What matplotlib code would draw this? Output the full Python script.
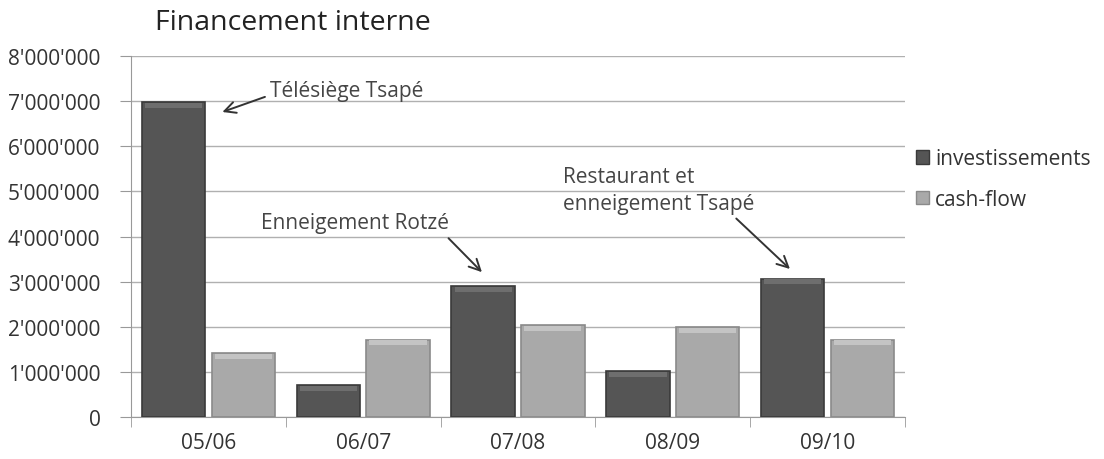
import matplotlib
matplotlib.use("Agg")
import matplotlib.pyplot as plt
import numpy as np
from matplotlib.patches import Patch

# data
periods = ["05/06", "06/07", "07/08", "08/09", "09/10"]
investissements = [6980000, 700000, 2900000, 1010000, 3060000]
cash_flow = [1410000, 1710000, 2030000, 1990000, 1710000]
y_ticks = np.arange(0, 8000001, 1000000)

DARK = "#555555"
DARK_EDGE = "#3a3a3a"
LIGHT = "#a9a9a9"
LIGHT_EDGE = "#8a8a8a"
TEXT = "#333333"
NOTE = "#454545"

plt.rcParams["font.family"] = ["Open Sans", "DejaVu Sans"]

fig = plt.figure(figsize=(11.04, 4.6), dpi=100)
fig.patch.set_facecolor("white")
ax = fig.add_axes([0.1187, 0.0913, 0.7010, 0.7847])

x = np.arange(len(periods))
w = 0.41
gap = 0.02
inv_pos = x - w / 2 - gap
cf_pos = x + w / 2 + gap

ax.bar(inv_pos, investissements, w, color=DARK, edgecolor=DARK_EDGE, linewidth=1.2, zorder=3)
ax.bar(cf_pos, cash_flow, w, color=LIGHT, edgecolor=LIGHT_EDGE, linewidth=1.2, zorder=3)

# a light strip on top of each bar to mimic the bevel
bevel = 110000
ax.bar(inv_pos, [bevel] * len(x), w * 0.9, bottom=np.array(investissements) - bevel * 1.1,
       color="#6e6e6e", linewidth=0, zorder=4)
ax.bar(cf_pos, [bevel] * len(x), w * 0.9, bottom=np.array(cash_flow) - bevel * 1.1,
       color="#c4c4c4", linewidth=0, zorder=4)

ax.set_xlim(-0.5, len(periods) - 0.5)
ax.set_ylim(0, 8000000)
ax.set_yticks(y_ticks)
ax.set_yticklabels([f"{v:,}".replace(",", "'") for v in y_ticks], fontsize=15, color=TEXT)
ax.set_xticks(x)
ax.set_xticklabels(periods, fontsize=15, color=TEXT)
ax.set_xticks(np.arange(len(periods) + 1) - 0.5, minor=True)
ax.tick_params(axis="x", which="major", length=0, pad=11)
ax.tick_params(axis="x", which="minor", length=7, color="#999999", direction="out")
ax.tick_params(axis="y", length=8, color="#999999", direction="out", pad=14)

ax.grid(True, axis="y", color="#b0b0b0", linewidth=1.0, zorder=0)
ax.set_axisbelow(True)
for s in ["top", "right"]:
    ax.spines[s].set_visible(False)
ax.spines["left"].set_color("#999999")
ax.spines["bottom"].set_color("#999999")

fig.text(0.140, 0.950, "Financement interne", fontsize=20.5, color="#222222", va="center", ha="left")

arrow = dict(arrowstyle="->", color="#333333", lw=1.4, mutation_scale=20, shrinkA=2, shrinkB=0)
ax.annotate("Télésiège Tsapé", xy=(0.09, 6760000), xytext=(0.40, 7230000),
            fontsize=15, color=NOTE, ha="left", va="center",
            arrowprops=dict(arrow, relpos=(0, 0.3)))
ax.annotate("Enneigement Rotzé", xy=(1.767, 3210000), xytext=(0.95, 4300000),
            fontsize=15, color=NOTE, ha="center", va="center",
            arrowprops=dict(arrow, relpos=(0.97, 0)))
ax.annotate("Restaurant et\nenneigement Tsapé", xy=(3.757, 3280000), xytext=(2.29, 5030000),
            fontsize=15, color=NOTE, ha="left", va="center", linespacing=1.35,
            arrowprops=dict(arrow, relpos=(0.88, 0)))

handles = [Patch(facecolor=DARK, edgecolor=DARK_EDGE), Patch(facecolor=LIGHT, edgecolor=LIGHT_EDGE)]
fig.legend(handles, ["investissements", "cash-flow"], loc="center left", bbox_to_anchor=(0.830, 0.608),
           frameon=False, fontsize=15, handlelength=0.6, handleheight=0.6, handletextpad=0.3,
           borderpad=0, borderaxespad=0, labelspacing=0.95, labelcolor=TEXT)

fig.savefig("out.png", dpi=100, facecolor="white")
